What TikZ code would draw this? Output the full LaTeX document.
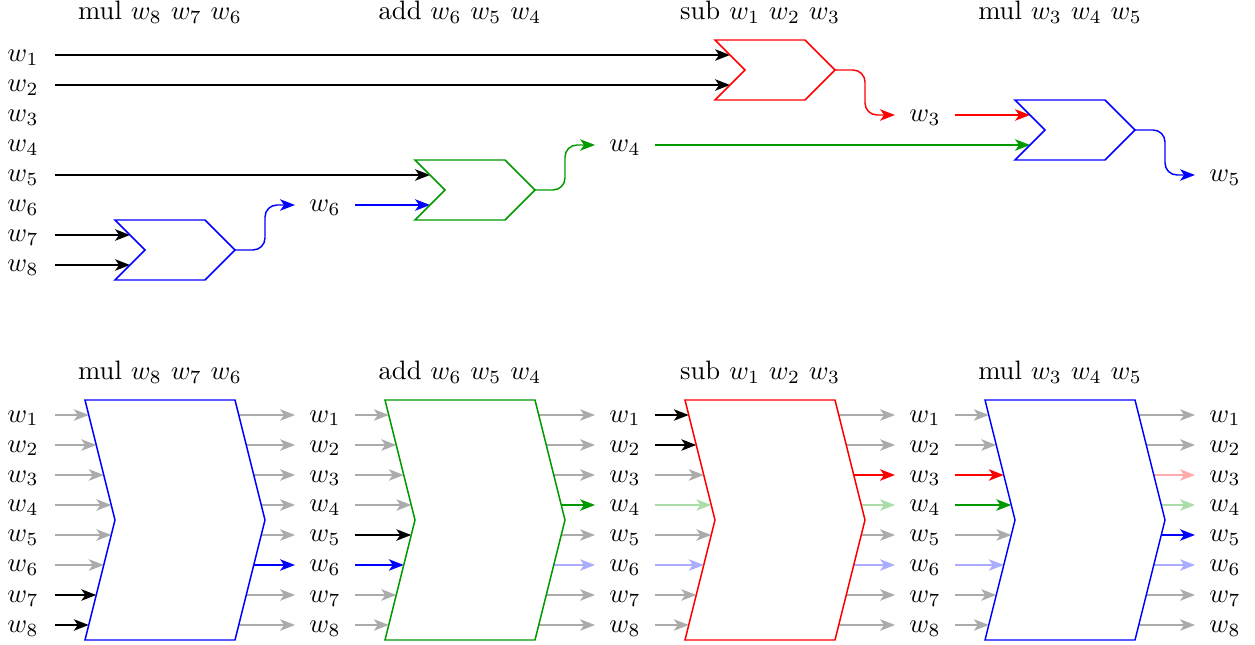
\documentclass[tikz,border=0pt]{standalone}
\usetikzlibrary{arrows.meta,backgrounds}
\definecolor{wgreen}{rgb}{0,0.6,0}
\tikzset{
  wire/.style={-{Stealth[length=5.6pt, width=4.3pt, inset=1.5pt]}, line width=0.55pt},
  wk/.style={wire, black},
  wg/.style={wire, black!33},
  wb/.style={wire, blue},
  wbf/.style={wire, blue!33},
  wn/.style={wire, wgreen},
  wnf/.style={wire, wgreen!33},
  wr/.style={wire, red},
  wrf/.style={wire, red!33},
  outwire/.style={wire, rounded corners=4.5pt},
  gate/.style={line width=0.55pt},
  lbl/.style={anchor=base, inner sep=0pt},
  title/.style={anchor=base, inner sep=0pt},
  smallgate/.pic={
    \draw[gate] (0,0) -- (90,0) -- (120,30) -- (90,60) -- (0,60) -- (30,30) -- cycle;
    \coordinate (-out) at (120,30);
    \coordinate (-in1) at (15,15);
    \coordinate (-in2) at (15,45);
  },
  biggate/.pic={
    \draw[gate] (0,0) -- (150,0) -- (180,120) -- (150,240) -- (0,240) -- (30,120) -- cycle;
    \foreach \i/\o in {1/3.75,2/11.25,3/18.75,4/26.25,5/26.25,6/18.75,7/11.25,8/3.75}{
      \coordinate (-l\i) at (\o, 30*\i-15);
      \coordinate (-r\i) at (150+\o, 30*\i-15);
    }
  },
}
\begin{document}
\begin{tikzpicture}[x=0.375pt, y=-0.375pt]
\useasboundingbox (0,0) rectangle (1255,645);

% ---------- upper part: gates wired as a circuit ----------
\foreach \t [count=\s from 0] in {{mul $w_8$ $w_7$ $w_6$},{add $w_6$ $w_5$ $w_4$},{sub $w_1$ $w_2$ $w_3$},{mul $w_3$ $w_4$ $w_5$}}
  \node[title] (tt\s) at (160+300*\s, 20) {\t};

\foreach \i in {1,...,8}{
  \node[lbl] (a\i) at (23, 32+30*\i) {$w_{\i}$};
  \coordinate (as\i) at (55, 25+30*\i);
}

\pic[blue]   (g1) at (115,220) {smallgate};
\pic[wgreen] (g2) at (415,160) {smallgate};
\pic[red]    (g3) at (715,40)  {smallgate};
\pic[blue]   (g4) at (1015,100) {smallgate};

% intermediate results
\node[lbl] (r6) at (325,212) {$w_6$};
\node[lbl] (r4) at (625,152) {$w_4$};
\node[lbl] (r3) at (925,122) {$w_3$};
\node[lbl] (r5) at (1225,182) {$w_5$};
\coordinate (r6in) at (295,205);  \coordinate (r6out) at (355,205);
\coordinate (r4in) at (595,145);  \coordinate (r4out) at (655,145);
\coordinate (r3in) at (895,115);  \coordinate (r3out) at (955,115);
\coordinate (r5in) at (1195,175);

\begin{scope}[on background layer]
\draw[wk] (as1) -- (g3-in1);
\draw[wk] (as2) -- (g3-in2);
\draw[wk] (as5) -- (g2-in1);
\draw[wk] (as7) -- (g1-in1);
\draw[wk] (as8) -- (g1-in2);

\draw[outwire, blue]   (g1-out) -- ++(30,0) |- (r6in);
\draw[outwire, wgreen] (g2-out) -- ++(30,0) |- (r4in);
\draw[outwire, red]    (g3-out) -- ++(30,0) |- (r3in);
\draw[outwire, blue]   (g4-out) -- ++(30,0) |- (r5in);

\draw[wb] (r6out) -- (g2-in2);
\draw[wn] (r4out) -- (g4-in2);
\draw[wr] (r3out) -- (g4-in1);
\end{scope}

% ---------- lower part: every gate acting on all eight wires ----------
\foreach \t [count=\s from 0] in {{mul $w_8$ $w_7$ $w_6$},{add $w_6$ $w_5$ $w_4$},{sub $w_1$ $w_2$ $w_3$},{mul $w_3$ $w_4$ $w_5$}}
  \node[title] (bt\s) at (160+300*\s, 380) {\t};

\foreach \i in {1,...,8}{
  \node[lbl] (b0-\i) at (23, 392+30*\i) {$w_{\i}$};
  \coordinate (o0-\i) at (55, 385+30*\i);
  \foreach \c in {1,2,3,4}{
    \node[lbl] (b\c-\i) at (25+300*\c, 392+30*\i) {$w_{\i}$};
    \coordinate (o\c-\i) at (55+300*\c, 385+30*\i);
    \coordinate (e\c-\i) at (-5+300*\c, 385+30*\i);
  }
}

\pic[blue]   (G0) at (85,400)  {biggate};
\pic[wgreen] (G1) at (385,400) {biggate};
\pic[red]    (G2) at (685,400) {biggate};
\pic[blue]   (G3) at (985,400) {biggate};

\begin{scope}[on background layer]
\foreach \st [count=\i] in {wg,wg,wg,wg,wg,wg,wk,wk}   \draw[\st] (o0-\i) -- (G0-l\i);
\foreach \st [count=\i] in {wg,wg,wg,wg,wg,wb,wg,wg}   \draw[\st] (G0-r\i) -- (e1-\i);
\foreach \st [count=\i] in {wg,wg,wg,wg,wk,wb,wg,wg}   \draw[\st] (o1-\i) -- (G1-l\i);
\foreach \st [count=\i] in {wg,wg,wg,wn,wg,wbf,wg,wg}  \draw[\st] (G1-r\i) -- (e2-\i);
\foreach \st [count=\i] in {wk,wk,wg,wnf,wg,wbf,wg,wg} \draw[\st] (o2-\i) -- (G2-l\i);
\foreach \st [count=\i] in {wg,wg,wr,wnf,wg,wbf,wg,wg} \draw[\st] (G2-r\i) -- (e3-\i);
\foreach \st [count=\i] in {wg,wg,wr,wn,wg,wbf,wg,wg}  \draw[\st] (o3-\i) -- (G3-l\i);
\foreach \st [count=\i] in {wg,wg,wrf,wnf,wb,wbf,wg,wg} \draw[\st] (G3-r\i) -- (e4-\i);
\end{scope}
\end{tikzpicture}
\end{document}
